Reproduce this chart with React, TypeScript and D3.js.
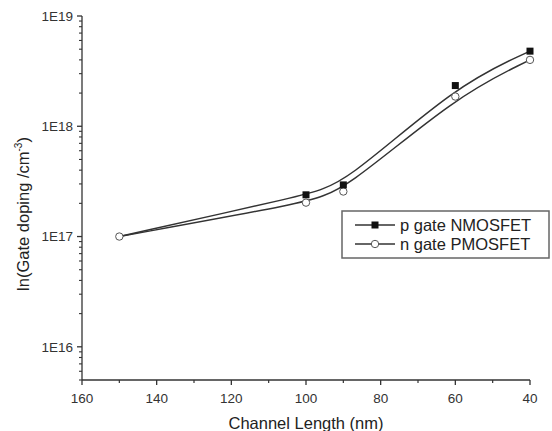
import React from "react";
import * as d3 from "d3";

const channelLength = [150, 100, 90, 60, 40];
const pGateNMOS = [1.0e17, 2.39e17, 2.94e17, 2.34e18, 4.8e18];
const nGatePMOS = [1.0e17, 2.03e17, 2.56e17, 1.86e18, 4.0e18];
const xTicks = [160, 140, 120, 100, 80, 60, 40];
const xMinorTicks = [150, 130, 110, 90, 70, 50];
const yTicks = [1e16, 1e17, 1e18, 1e19];
const yTickLabels = ["1E16", "1E17", "1E18", "1E19"];
const legendLabels = ["p gate NMOSFET", "n gate PMOSFET"];

const W = 552;
const H = 431;
const FONT = "Liberation Sans, Arial, sans-serif";

export default function App() {
  const left = 82, right = 530, top = 16, bottom = 380;
  const x = d3.scaleLinear().domain([160, 40]).range([left, right]);
  const y = d3.scaleLog().domain([5e15, 1e19]).range([bottom, top]);

  const minorY: number[] = [];
  for (let e = 15; e < 19; e++) {
    for (let m = 2; m <= 9; m++) {
      const v = m * Math.pow(10, e);
      if (v >= 5e15 && v <= 1e19) minorY.push(v);
    }
  }

  const line = d3
    .line<[number, number]>()
    .x((d) => x(d[0]))
    .y((d) => y(d[1]))
    .curve(d3.curveBasis);

  const s1 = channelLength.map((c, i) => [c, pGateNMOS[i]] as [number, number]);
  const s2 = channelLength.map((c, i) => [c, nGatePMOS[i]] as [number, number]);
  const stroke = "#333";

  return (
    <svg
      width={W}
      height={H}
      style={{ position: "fixed", left: 0, top: 0, display: "block", background: "#fff" }}
      fontFamily={FONT}
    >
      {/* axes */}
      <line x1={left} y1={top} x2={left} y2={bottom} stroke={stroke} strokeWidth={1.3} />
      <line x1={left} y1={bottom} x2={right} y2={bottom} stroke={stroke} strokeWidth={1.3} />
      {xTicks.map((t) => (
        <g key={"xt" + t}>
          <line x1={x(t)} x2={x(t)} y1={bottom} y2={bottom + 5} stroke={stroke} strokeWidth={1.3} />
          <text x={x(t)} y={bottom + 23} textAnchor="middle" fontSize={13.5} fill="#333">
            {t}
          </text>
        </g>
      ))}
      {xMinorTicks.map((t) => (
        <line key={"xm" + t} x1={x(t)} x2={x(t)} y1={bottom} y2={bottom + 3} stroke={stroke} strokeWidth={1.2} />
      ))}
      {yTicks.map((t, i) => (
        <g key={"yt" + t}>
          <line x1={left - 5} x2={left} y1={y(t)} y2={y(t)} stroke={stroke} strokeWidth={1.3} />
          <text x={left - 9} y={y(t) + 4.8} textAnchor="end" fontSize={13.5} fill="#333">
            {yTickLabels[i]}
          </text>
        </g>
      ))}
      {minorY.map((t) => (
        <line key={"ym" + t} x1={left - 3} x2={left} y1={y(t)} y2={y(t)} stroke={stroke} strokeWidth={1.1} />
      ))}
      <text x={306} y={429} textAnchor="middle" fontSize={16.5} fill="#222">
        Channel Length (nm)
      </text>
      <text transform={`translate(29, 214) rotate(-90)`} textAnchor="middle" fontSize={16.5} fill="#222">
        ln(Gate doping /cm
        <tspan dy={-7} fontSize={10}>-3</tspan>
        <tspan dy={7}>)</tspan>
      </text>

      {/* series */}
      <path d={line(s1) || ""} fill="none" stroke={stroke} strokeWidth={1.5} />
      <path d={line(s2) || ""} fill="none" stroke={stroke} strokeWidth={1.5} />
      {s2.map((d, i) => (
        <circle key={"c" + i} cx={x(d[0])} cy={y(d[1])} r={3.7} fill="#fff" stroke="#555" strokeWidth={1} />
      ))}
      {s1.slice(1).map((d, i) => (
        <rect key={"s" + i} x={x(d[0]) - 3.5} y={y(d[1]) - 3.5} width={7} height={7} fill="#111" />
      ))}

      {/* legend */}
      <rect x={342} y={211} width={207} height={47} fill="#fff" stroke="#666" strokeWidth={1.5} />
      <line x1={355} x2={395} y1={225} y2={225} stroke={stroke} strokeWidth={1.5} />
      <rect x={375 - 3.5} y={225 - 3.5} width={7} height={7} fill="#111" />
      <line x1={355} x2={395} y1={244} y2={244} stroke={stroke} strokeWidth={1.5} />
      <circle cx={375} cy={244} r={3.7} fill="#fff" stroke="#555" strokeWidth={1} />
      <text x={400} y={231} fontSize={16.5} fill="#222">{legendLabels[0]}</text>
      <text x={400} y={250} fontSize={16.5} fill="#222">{legendLabels[1]}</text>
    </svg>
  );
}
